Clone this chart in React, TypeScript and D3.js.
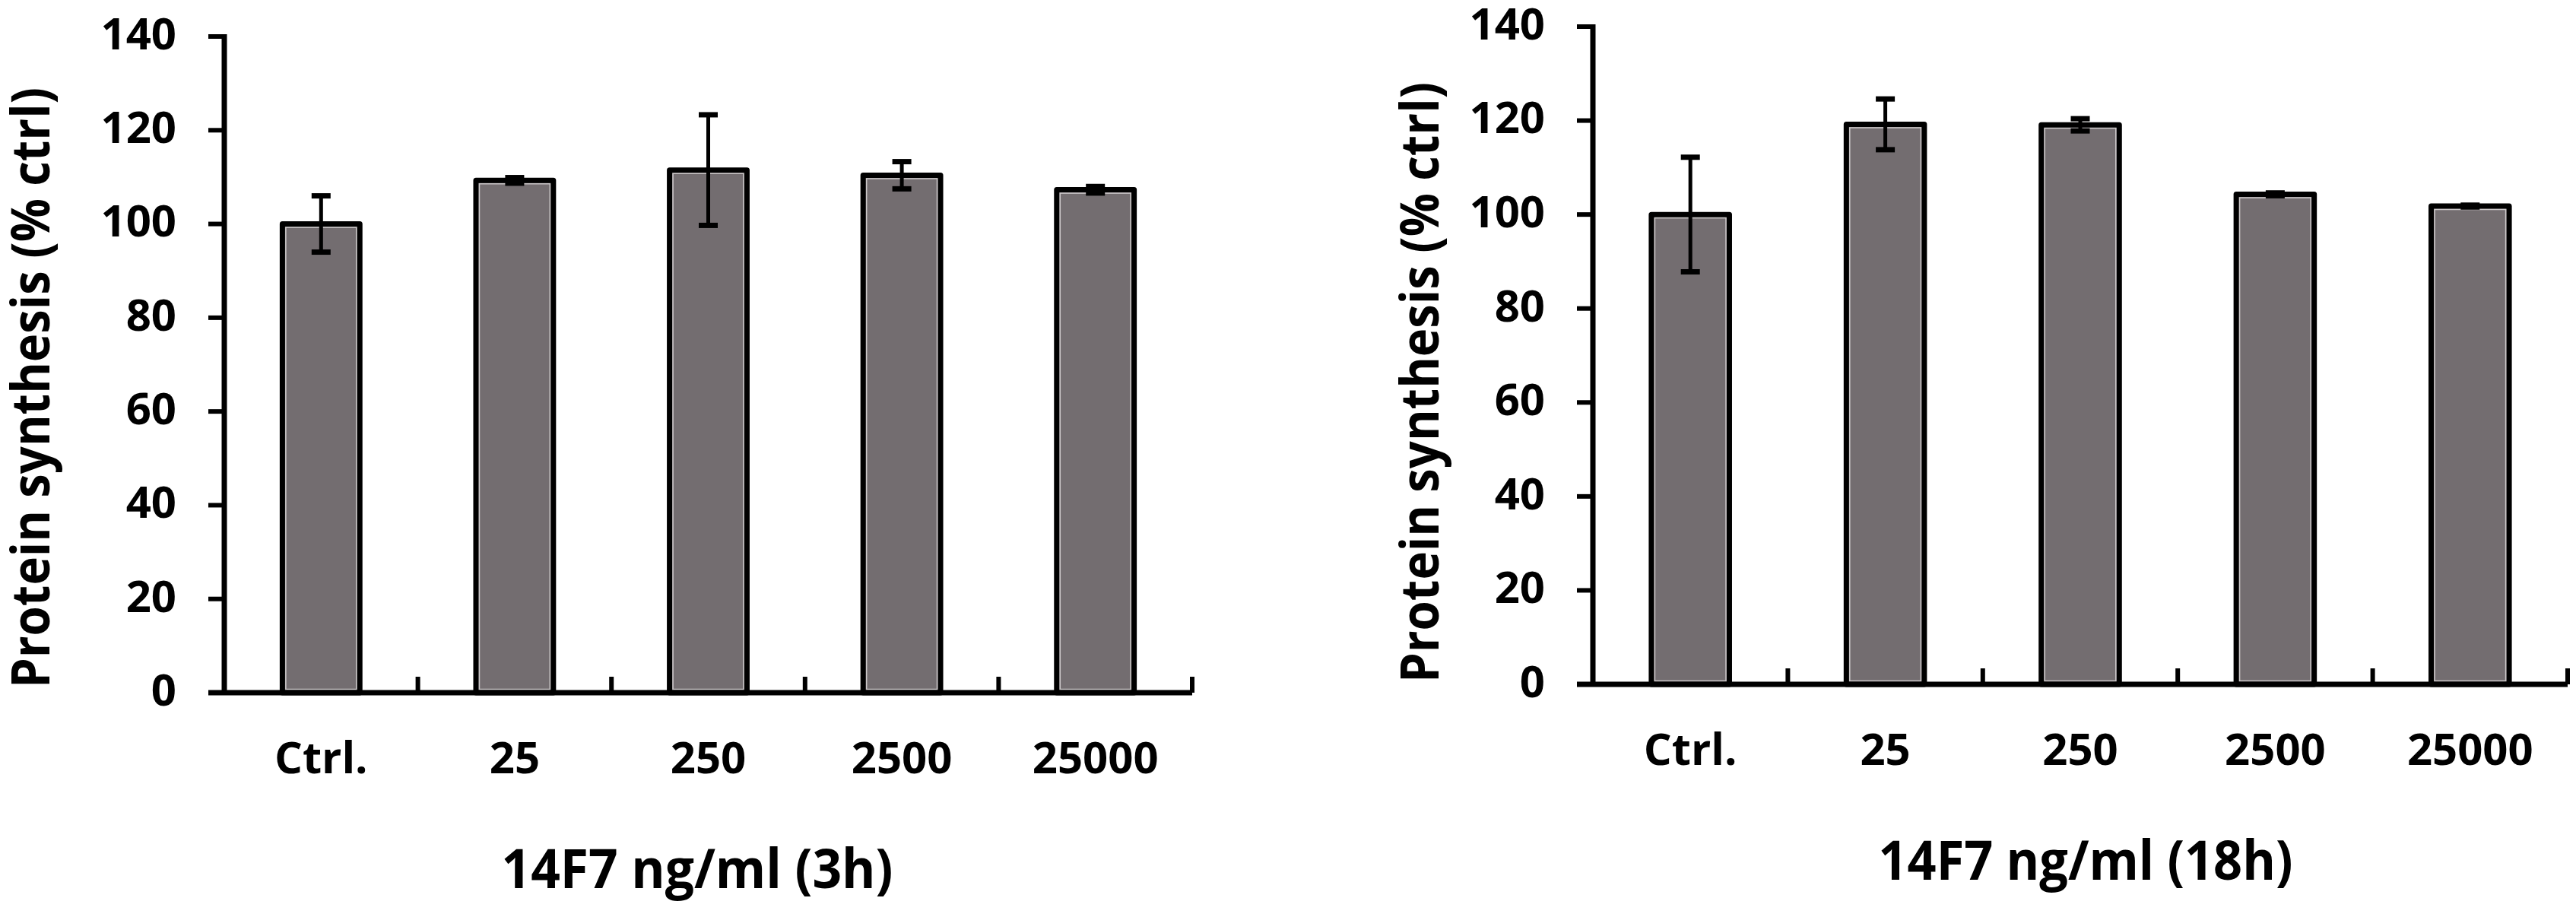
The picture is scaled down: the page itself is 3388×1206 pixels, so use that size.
import React, { useEffect, useRef } from 'react';
import * as d3 from 'd3';

const categories = ['Ctrl.', '25', '250', '2500', '25000'];

// 3h panel
const means3h = [100, 109.3, 111.5, 110.4, 107.3];
const errors3h = [6.0, 0.6, 11.8, 2.9, 0.7];

// 18h panel
const means18h = [100, 119.2, 119.1, 104.3, 101.8];
const errors18h = [12.2, 5.4, 1.3, 0.3, 0.2];

const yTicks = [0, 20, 40, 60, 80, 100, 120, 140];
const yLabel = 'Protein synthesis (% ctrl)';
const titles = ['14F7 ng/ml (3h)', '14F7 ng/ml (18h)'];

const W = 3388;
const H = 1206;
const FONT = "'Open Sans', 'Liberation Sans', sans-serif";
const BAR_FILL = '#736d70';

// layout of each panel in page pixels
const panels = [
  { means: means3h, errors: errors3h, title: titles[0], x0: 295, x1: 1568, yTop: 48, yBottom: 911, titleX: 917, labelX: 65, labelY: 510 },
  { means: means18h, errors: errors18h, title: titles[1], x0: 2095, x1: 3377, yTop: 35, yBottom: 900, titleX: 2743, labelX: 1892, labelY: 503 },
];

export default function App() {
  const svgRef = useRef<SVGSVGElement>(null);

  useEffect(() => {
    if (!svgRef.current) return;
    const root = d3.select(svgRef.current);
    root.selectAll('*').remove();

    root.append('rect').attr('width', W).attr('height', H).attr('fill', '#fff');

    panels.forEach((p) => {
      const g = root.append('g');

      const x = d3.scaleBand().domain(categories).range([p.x0, p.x1]).paddingInner(0.6).paddingOuter(0.3);
      const y = d3.scaleLinear().domain([0, 140]).range([p.yBottom, p.yTop]);
      const step = x.step();

      // bars
      const bars = g
        .selectAll('.bar')
        .data(p.means)
        .enter()
        .append('g');

      bars
        .append('rect')
        .attr('x', (_, i) => x(categories[i])!)
        .attr('width', x.bandwidth())
        .attr('y', (d) => y(d))
        .attr('height', (d) => y(0) - y(d))
        .attr('fill', BAR_FILL)
        .attr('stroke', '#000')
        .attr('stroke-width', 7)
        .attr('stroke-linejoin', 'round');

      // thin light line just inside the outline
      bars
        .append('rect')
        .attr('x', (_, i) => x(categories[i])! + 4.5)
        .attr('width', x.bandwidth() - 9)
        .attr('y', (d) => y(d) + 4.5)
        .attr('height', (d) => Math.max(0, y(0) - y(d) - 9))
        .attr('fill', 'none')
        .attr('stroke', '#cdc9ca')
        .attr('stroke-width', 1.5);

      // error bars
      const eb = g
        .selectAll('.err')
        .data(p.means)
        .enter()
        .append('g')
        .attr('transform', (_, i) => `translate(${x(categories[i])! + x.bandwidth() / 2},0)`);

      eb.append('line')
        .attr('y1', (d, i) => y(d + p.errors[i]))
        .attr('y2', (d, i) => y(d - p.errors[i]))
        .attr('stroke', '#000')
        .attr('stroke-width', 5);

      [1, -1].forEach((sign) => {
        eb.append('line')
          .attr('x1', -12.5)
          .attr('x2', 12.5)
          .attr('y1', (d, i) => y(d + sign * p.errors[i]))
          .attr('y2', (d, i) => y(d + sign * p.errors[i]))
          .attr('stroke', '#000')
          .attr('stroke-width', 7);
      });

      // y axis
      g.append('line')
        .attr('x1', p.x0)
        .attr('x2', p.x0)
        .attr('y1', y(140) - 3)
        .attr('y2', y(0))
        .attr('stroke', '#000')
        .attr('stroke-width', 7);

      g.selectAll('.ytick')
        .data(yTicks)
        .enter()
        .append('line')
        .attr('x1', p.x0 - 21)
        .attr('x2', p.x0)
        .attr('y1', (d) => y(d))
        .attr('y2', (d) => y(d))
        .attr('stroke', '#000')
        .attr('stroke-width', 6);

      g.selectAll('.ylab')
        .data(yTicks)
        .enter()
        .append('text')
        .attr('x', p.x0 - 63)
        .attr('y', (d) => y(d) - 4)
        .attr('dy', '0.36em')
        .attr('text-anchor', 'end')
        .attr('font-family', FONT)
        .attr('font-weight', 700)
        .attr('font-size', 58)
        .text((d) => d);

      // x axis
      g.append('line')
        .attr('x1', p.x0 - 21)
        .attr('x2', p.x1)
        .attr('y1', y(0))
        .attr('y2', y(0))
        .attr('stroke', '#000')
        .attr('stroke-width', 7);

      g.selectAll('.xtick')
        .data(categories)
        .enter()
        .append('line')
        .attr('x1', (d) => x(d)! - x.bandwidth() * 0.75 + step)
        .attr('x2', (d) => x(d)! - x.bandwidth() * 0.75 + step)
        .attr('y1', y(0))
        .attr('y2', y(0) - 21)
        .attr('stroke', '#000')
        .attr('stroke-width', 6);

      g.selectAll('.xlab')
        .data(categories)
        .enter()
        .append('text')
        .attr('x', (d) => x(d)! + x.bandwidth() / 2)
        .attr('y', y(0) + 106)
        .attr('text-anchor', 'middle')
        .attr('font-family', FONT)
        .attr('font-weight', 700)
        .attr('font-size', 58)
        .text((d) => d);

      // axis titles
      g.append('text')
        .attr('x', p.titleX)
        .attr('y', y(0) + 257)
        .attr('text-anchor', 'middle')
        .attr('font-family', FONT)
        .attr('font-weight', 700)
        .attr('font-size', 72)
        .attr('textLength', p.title.length > 15 ? 545 : 515)
        .attr('lengthAdjust', 'spacingAndGlyphs')
        .text(p.title);

      g.append('text')
        .attr('transform', `translate(${p.labelX},${p.labelY}) rotate(-90)`)
        .attr('text-anchor', 'middle')
        .attr('font-family', FONT)
        .attr('font-weight', 700)
        .attr('font-size', 70)
        .attr('textLength', 790)
        .attr('lengthAdjust', 'spacingAndGlyphs')
        .text(yLabel);
    });
  }, []);

  return (
    <svg
      ref={svgRef}
      width={W}
      height={H}
      style={{ position: 'absolute', left: 0, top: 0, display: 'block' }}
    />
  );
}
